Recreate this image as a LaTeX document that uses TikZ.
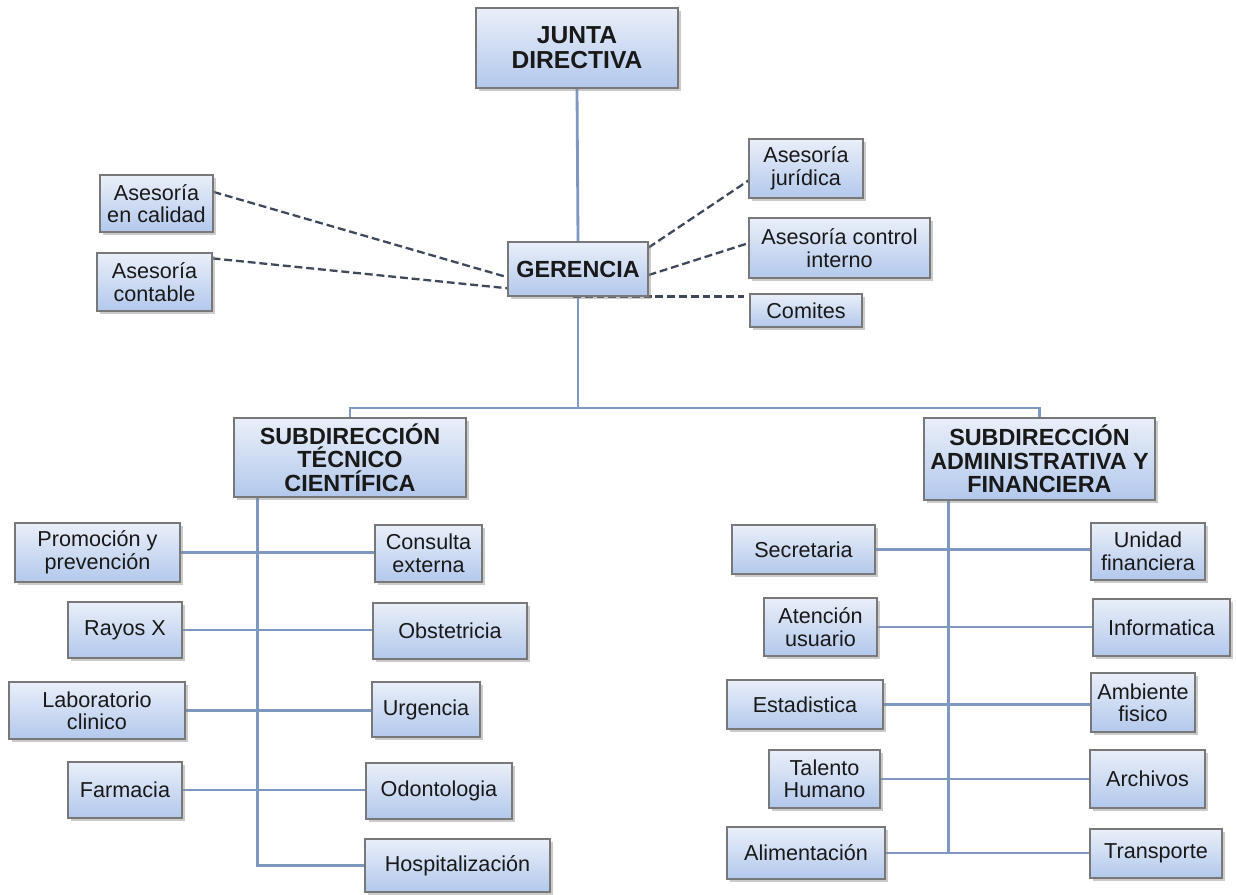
\documentclass[tikz,border=0pt]{standalone}
\usepackage{fontspec}
\setmainfont{Liberation Sans}
\usetikzlibrary{shadows,calc}
\pgfdeclarelayer{bg}
\pgfsetlayers{bg,main}
\definecolor{lnblue}{RGB}{126,152,194}
\definecolor{dashc}{RGB}{62,72,88}
\definecolor{boxtop}{RGB}{234,239,249}
\definecolor{boxbot}{RGB}{178,200,236}
\definecolor{boxline}{RGB}{120,120,120}
\tikzset{
  orgbox/.style={draw=boxline, line width=0.6pt, top color=boxtop, bottom color=boxbot,
    align=center, inner sep=0pt, text=black!90,
    font=\fontsize{12.3}{12.8}\selectfont,
    drop shadow={shadow xshift=1.6pt, shadow yshift=-1.6pt, fill=black!45, opacity=0.45}},
  titlebox/.style={orgbox, font=\bfseries\fontsize{13.3}{13.5}\selectfont},
  conn/.style={draw=lnblue, line width=1.6pt},
  dconn/.style={draw=dashc, line width=1.3pt, dash pattern=on 4.5pt off 2.2pt}
}
\newcommand\orgnode[7][orgbox]{%
  \pgfmathsetmacro\ocx{(#3+#5)/2}\pgfmathsetmacro\ocy{(#4+#6)/2}%
  \pgfmathsetmacro\ow{(#5-#3)*0.02}\pgfmathsetmacro\oh{(#6-#4)*0.02}%
  \node[#1, minimum width=\ow cm, minimum height=\oh cm] (#2) at (\ocx,\ocy) {#7};}
\begin{document}
\begin{tikzpicture}[x=0.02cm,y=-0.02cm]
\useasboundingbox (0,0) rectangle (1236,894);
% top
\orgnode[titlebox,font=\bfseries\fontsize{14}{14.2}\selectfont]{junta}{476}{8}{678}{88}{JUNTA\\DIRECTIVA}
\orgnode[titlebox]{ger}{508}{242}{648}{296}{GERENCIA}
\orgnode{cal}{100}{175}{213}{232}{Asesoría\\en calidad}
\orgnode{cont}{97}{253}{212}{311}{Asesoría\\contable}
\orgnode{jur}{749}{139}{863}{198}{Asesoría\\jurídica}
\orgnode{ctrl}{749}{218}{930}{278}{Asesoría control\\interno}
\orgnode{com}{750}{294}{862}{327}{Comites}
\orgnode[titlebox]{stc}{234}{418}{466}{497}{SUBDIRECCIÓN\\TÉCNICO\\CIENTÍFICA}
\orgnode[titlebox]{saf}{924}{418}{1155}{500}{SUBDIRECCIÓN\\ADMINISTRATIVA Y\\FINANCIERA}
% left branch
\orgnode{prom}{15}{523}{180}{582}{Promoción y\\prevención}
\orgnode{cons}{375}{525}{482}{582}{Consulta\\externa}
\orgnode{rayos}{68}{602}{182}{658}{Rayos X}
\orgnode{obst}{373}{603}{527}{659}{Obstetricia}
\orgnode{lab}{9}{682}{185}{739}{Laboratorio\\clinico}
\orgnode{urg}{372}{682}{480}{737}{Urgencia}
\orgnode{farm}{68}{762}{182}{818}{Farmacia}
\orgnode{odon}{366}{763}{512}{819}{Odontologia}
\orgnode{hosp}{365}{839}{550}{892}{Hospitalización}
% right branch
\orgnode{sec}{732}{525}{875}{574}{Secretaria}
\orgnode{unid}{1091}{523}{1205}{580}{Unidad\\financiera}
\orgnode{aten}{764}{598}{877}{656}{Atención\\usuario}
\orgnode{info}{1093}{599}{1230}{656}{Informatica}
\orgnode{est}{727}{680}{883}{729}{Estadistica}
\orgnode{amb}{1091}{673}{1195}{732}{Ambiente\\fisico}
\orgnode{tal}{769}{750}{880}{808}{Talento\\Humano}
\orgnode{arch}{1090}{750}{1205}{808}{Archivos}
\orgnode{alim}{727}{827}{885}{879}{Alimentación}
\orgnode{trans}{1090}{829}{1222}{878}{Transporte}
\begin{pgfonlayer}{bg}
  \coordinate (hub) at (578,408);
  \draw[conn] (junta.south) -- (ger.north);
  \draw[conn] (ger.south) -- (hub);
  \draw[conn] (stc.north) |- (hub) -| (saf.north);
  % left trunk
  \coordinate (lt) at ([xshift=0.48cm]stc.south west);
  \draw[conn] (lt) |- (hosp.west);
  \draw[conn] (prom.east) -- (prom.east -| cons.west);
  \draw[conn] (rayos.east) -- (rayos.east -| obst.west);
  \draw[conn] (lab.east) -- (lab.east -| urg.west);
  \draw[conn] (farm.east) -- (farm.east -| odon.west);
  % right trunk
  \coordinate (rt) at ([xshift=0.5cm]saf.south west);
  \draw[conn] (rt) -- (rt |- alim.east);
  \draw[conn] (sec.east) -- (sec.east -| unid.west);
  \draw[conn] (aten.east) -- (aten.east -| info.west);
  \draw[conn] (est.east) -- (est.east -| amb.west);
  \draw[conn] (tal.east) -- (tal.east -| arch.west);
  \draw[conn] (alim.east) -- (alim.east -| trans.west);
  % dashed advisory lines
  \draw[dconn] ($(cal.north east)!0.3!(cal.south east)$) -- ($(ger.north west)!0.65!(ger.south west)$);
  \draw[dconn] ($(cont.north east)!0.1!(cont.south east)$) -- ($(ger.north west)!0.85!(ger.south west)$);
  \draw[dconn] ($(ger.north east)!0.11!(ger.south east)$) -- ($(jur.north west)!0.7!(jur.south west)$);
  \draw[dconn] ($(ger.north east)!0.61!(ger.south east)$) -- ($(ctrl.north west)!0.42!(ctrl.south west)$);
  \draw[dconn] ([xshift=-0.1cm]ger.south) -- ([xshift=-0.1cm]ger.south -| com.north west);
\end{pgfonlayer}
\end{tikzpicture}
\end{document}
